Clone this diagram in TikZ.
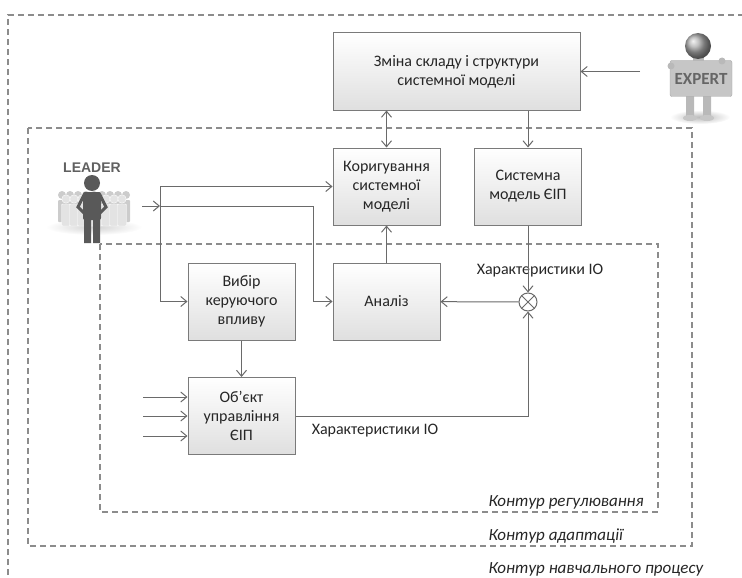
\documentclass[tikz,border=0pt]{standalone}
\usepackage{fontspec}
\setmainfont{Carlito}
\newfontfamily\signfont{Liberation Sans}
\usetikzlibrary{arrows.meta,positioning}
\definecolor{linegray}{HTML}{6A6A6A}
\definecolor{boxgray}{HTML}{7A7A7A}
\definecolor{dashgray}{HTML}{8C8C8C}
\definecolor{txtgray}{HTML}{262626}
\tikzset{block/.style={draw=boxgray,line width=1pt,top color=white,bottom color=gray!25,
  text=txtgray,align=center,minimum width=107pt,minimum height=77pt,inner sep=2pt,
  font=\fontsize{16}{19}\selectfont}}
\tikzset{contour/.style={draw=dashgray,line width=1.2pt,dash pattern=on 6pt off 4pt}}
\tikzset{sig/.style={draw=linegray,line width=1pt}}
\tikzset{lbl/.style={text=txtgray,font=\fontsize{16}{19}\selectfont}}
\tikzset{clbl/.style={text=txtgray,anchor=west,font=\fontsize{17}{19}\selectfont\itshape}}

\begin{document}
\begin{tikzpicture}[x=1pt,y=-1pt,>={Straight Barb[length=6pt,width=10pt]}]
\useasboundingbox (0,0) rectangle (742,578);
% контури
\draw[contour] (8,575) -- (8,15) -- (742,15);
\draw[contour] (28,128) rectangle (692,546);
\draw[contour] (100,244) rectangle (658,512);
\node[clbl] (kreg) at (485,502) {Контур регулювання};
\node[clbl] (kadapt) at (485,536) {Контур адаптації};
\node[clbl] (knavch) at (485,569) {Контур навчального процесу};
%
\node[block,minimum width=247pt] (change) at (456.5,71.5) {Зміна складу і структури\\системної моделі};
\node[block] (correct) at (386.5,186.5) {Коригування\\системної\\моделі};
\node[block] (sysmodel) at (528,186.5) {Системна\\модель ЄІП};
\node[block] (choice) at (241.5,301.5) {Вибір\\керуючого\\впливу};
\node[block] (analysis) at (386.5,301.5) {Аналіз};
\node[block] (object) at (241.5,416) {Об’єкт\\управління\\ЄІП};
\node[circle,draw=linegray,line width=1pt,minimum size=18pt,inner sep=0pt,fill=white] (sum) at (528,302) {};
\draw[sig] (sum.north west) -- (sum.south east) (sum.north east) -- (sum.south west);
\node[lbl] (io1) at (540,271) {Характеристики ІО};
\node[lbl] (io2) at (375,431) {Характеристики ІО};
% LEADER
\shade[inner color=gray!35,outer color=white] (94,227) ellipse (48 and 8);
\foreach \x in {62,70,...,126} {
  \fill[gray!40] (\x,195) circle (4);
  \fill[gray!40,rounded corners=1pt] (\x-4,200) rectangle (\x+4,222);
}
\foreach \x in {66,74,...,122} {
  \fill[gray!22,draw=white,line width=0.4pt] (\x,199) circle (4.2);
  \fill[gray!22,draw=white,line width=0.4pt,rounded corners=1pt] (\x-4.5,204) rectangle (\x+4.5,226);
}
\fill[gray!70!black] (92,183) circle (8);
\fill[gray!70!black,rounded corners=2pt] (83,192) rectangle (101,220);
\fill[gray!70!black] (84,218) rectangle (91,243) (93,218) rectangle (100,243);
\draw[gray!70!black,line width=3pt,line cap=round] (84,195) -- (78,207) -- (84,213) (100,195) -- (106,207) -- (100,213);
\node[font=\signfont\bfseries\fontsize{14}{14}\selectfont,text=gray!75!black] (leader) at (92,168) {LEADER};
% EXPERT
\shade[inner color=gray!55,outer color=white] (700,117) ellipse (30 and 7);
\fill[gray!55] (686,94) rectangle (694,117) (703,94) rectangle (711,117);
\fill[gray!45] (690,118) ellipse (7 and 3) (707,118) ellipse (7 and 3);
\fill[gray!55] (693,55) rectangle (704,62);
\shade[ball color=gray!65] (698,46) circle (13);
\node[draw=gray!70,fill=gray!45,rounded corners=2pt,minimum width=62pt,minimum height=36pt,
  text=gray!80!black,font=\bfseries\fontsize{17}{17}\selectfont] (expert) at (701,78.5) {EXPERT};
\fill[gray!55] (671,66) circle (3.5) (722,61) circle (3.5);
% зв'язки
\coordinate (ldrout) at (142,206);
\coordinate (j1) at (160,206);
\coordinate (j2) at (313,206);
\coordinate (expin) at (640,71.5);
\draw[sig,->] (expin) -- (change);
\draw[sig,<->] (change.south -| correct.north) -- (correct.north);
\draw[sig,->] (change.south -| sysmodel.north) -- (sysmodel.north);
\draw[sig,->] (sysmodel) -- (sum);
\draw[sig,->] (sum) -- (analysis);
\draw[sig,->] (analysis) -- (correct);
\draw[sig,->] (choice) -- (object);
\draw[sig,->] (object) -| (sum);
\draw[sig,->] (ldrout) -- (j1);
\draw[sig,->] (j1) |- (correct);
\draw[sig,->] (j1) |- (choice);
\draw[sig,->] (j1) -- (j2) |- (analysis);
\foreach \y [count=\i] in {397,416,436} {
  \coordinate (in\i) at (143,\y);
  \draw[sig,->] (in\i) -- (in\i -| object.west);
}
\end{tikzpicture}
\end{document}
